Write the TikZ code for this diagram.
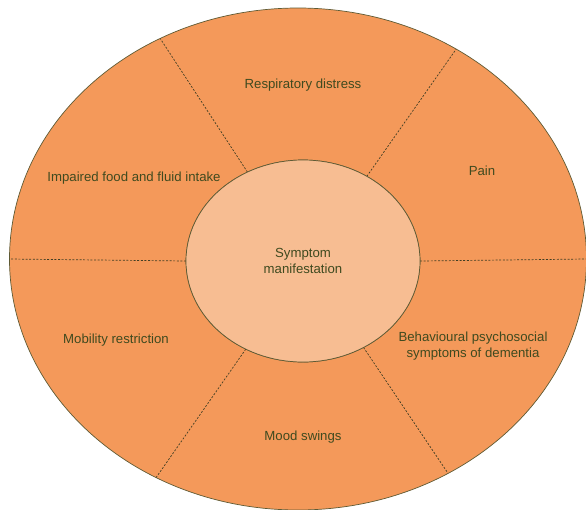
\documentclass[tikz,border=0pt]{standalone}
\usepackage{fontspec}
\setmainfont{Liberation Sans}
\usetikzlibrary{shapes.geometric}
\definecolor{outerfill}{HTML}{F4995A}
\definecolor{innerfill}{HTML}{F7BD92}
\definecolor{edgecol}{HTML}{5E5A34}
\definecolor{textcol}{HTML}{3F4A1F}
\begin{document}
\begin{tikzpicture}[x=1pt,y=-1pt,
  ring/.style={ellipse, draw=edgecol, line width=0.7pt, inner sep=0pt, outer sep=0pt},
  divider/.style={draw=edgecol!70!black, line width=0.7pt, dash pattern=on 2pt off 1.6pt},
  lbl/.style={text=textcol, font=\fontsize{13.2}{16.5}\selectfont, align=center, inner sep=0pt}]
\useasboundingbox (0,0) rectangle (586,509);
\node[ring, fill=outerfill, minimum width=577pt, minimum height=502pt] (outer) at (298,259) {};
\node[ring, minimum width=234pt, minimum height=202pt] (innerref) at (303,261) {};
\draw[divider] (innerref.122) -- (outer.122);
\draw[divider] (innerref.53) -- (outer.53);
\draw[divider] (innerref.180) -- (outer.180);
\draw[divider] (innerref.0) -- (outer.0);
\draw[divider] (innerref.237) -- (outer.237);
\draw[divider] (innerref.305) -- (outer.305);
\node[ring, fill=innerfill, minimum width=234pt, minimum height=202pt, lbl] (inner) at (303,261) {Symptom\\manifestation};
\node[lbl] (resp) at (303,85) {Respiratory distress};
\node[lbl] (pain) at (482,171) {Pain};
\node[lbl] (food) at (134,178) {Impaired food and fluid intake};
\node[lbl] (mob) at (116,340) {Mobility restriction};
\node[lbl] (mood) at (303,437) {Mood swings};
\node[lbl] (bpsd) at (473,346) {Behavioural psychosocial\\symptoms of dementia};
\end{tikzpicture}
\end{document}
